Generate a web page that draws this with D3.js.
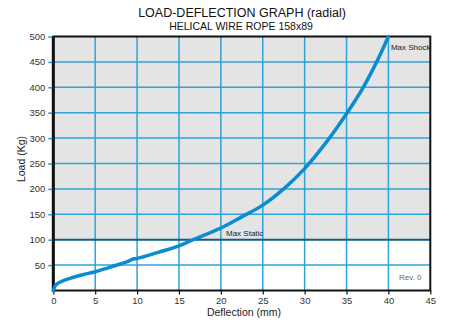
<!DOCTYPE html>
<html><head><meta charset="utf-8">
<script src="https://cdn.jsdelivr.net/npm/d3@7"></script>
<style>body{margin:0;background:#fff}svg{display:block}text{font-family:"Liberation Sans",Arial,sans-serif}</style>
</head><body>
<svg id="c" width="449" height="325"></svg>
<script>
const deflection = [0, 0.3, 1, 2, 3.5, 5, 7, 9, 9.5, 10, 12.5, 15, 16.7, 20, 22.5, 25, 27.5, 30, 32.5, 35, 37, 38.6, 40];
const load = [0, 11, 18, 24, 31, 37, 47, 58, 62, 63, 75, 88, 100, 123, 145, 168, 200, 240, 290, 348, 400, 450, 500];
const xTicks = [0, 5, 10, 15, 20, 25, 30, 35, 40, 45];
const yTicks = [50, 100, 150, 200, 250, 300, 350, 400, 450, 500];
const maxStatic = 100;
const maxShock = 500;

const svg = d3.select("#c");
const L = 53.3, R = 430.3, T = 36.5, B = 290.5;
const x = d3.scaleLinear().domain([0, 45]).range([L, R]);
const y = d3.scaleLinear().domain([0, 500]).range([B, T]);

// backgrounds
svg.append("rect").attr("x", L).attr("y", y(500)).attr("width", R - L).attr("height", y(maxStatic) - y(500)).attr("fill", "#e4e4e4");

const grid = "#2ea2da";
// vertical grid
svg.append("g").selectAll("line").data(xTicks.slice(1, -1)).join("line")
  .attr("x1", d => x(d)).attr("x2", d => x(d)).attr("y1", T).attr("y2", B)
  .attr("stroke", grid).attr("stroke-width", 1.5);
// horizontal grid
svg.append("g").selectAll("line").data(yTicks.filter(d => d !== maxStatic && d !== 500)).join("line")
  .attr("x1", L).attr("x2", R).attr("y1", d => y(d)).attr("y2", d => y(d))
  .attr("stroke", grid).attr("stroke-width", 1.5);
// max static line
svg.append("line").attr("x1", L).attr("x2", R).attr("y1", y(maxStatic)).attr("y2", y(maxStatic))
  .attr("stroke", "#0d5c84").attr("stroke-width", 2);

// border
svg.append("rect").attr("x", L).attr("y", T).attr("width", R - L).attr("height", B - T)
  .attr("fill", "none").attr("stroke", "#111").attr("stroke-width", 2);
svg.append("line").attr("x1", L).attr("x2", L).attr("y1", T).attr("y2", B + 1)
  .attr("stroke", "#111").attr("stroke-width", 3);

// y axis
const yAxis = svg.append("g").attr("transform", `translate(${L - 1},0)`)
  .call(d3.axisLeft(y).tickValues(yTicks).tickSize(4).tickPadding(3));
yAxis.select(".domain").remove();
yAxis.selectAll("line").attr("stroke", "#1a9ad6").attr("stroke-width", 1.5);
yAxis.selectAll("text").attr("font-size", 9.5).attr("fill", "#333");

// x axis
const xAxis = svg.append("g").attr("transform", `translate(0,${B})`)
  .call(d3.axisBottom(x).tickValues(xTicks).tickSize(4).tickPadding(3));
xAxis.select(".domain").remove();
xAxis.selectAll("line").attr("stroke", "#111").attr("stroke-width", 1.2);
xAxis.selectAll("text").attr("font-size", 9.5).attr("fill", "#333");

// curve
const pts = deflection.map((d, i) => [d, load[i]]);
svg.append("path").datum(pts)
  .attr("d", d3.line().x(d => x(d[0])).y(d => y(d[1])).curve(d3.curveCatmullRom.alpha(0.5)))
  .attr("fill", "none").attr("stroke", "#0a8bd2").attr("stroke-width", 3.5).attr("stroke-linecap", "round");

// labels
svg.append("text").attr("x", 242).attr("y", 16.5).attr("text-anchor", "middle").attr("font-size", 12.5).attr("fill", "#111")
  .text("LOAD-DEFLECTION GRAPH (radial)");
svg.append("text").attr("x", 241).attr("y", 30).attr("text-anchor", "middle").attr("font-size", 10.5).attr("fill", "#111")
  .text("HELICAL WIRE ROPE 158x89");
svg.append("text").attr("transform", "translate(25,159) rotate(-90)").attr("text-anchor", "middle").attr("font-size", 10.5).attr("fill", "#222")
  .text("Load (Kg)");
svg.append("text").attr("x", 244).attr("y", 316).attr("text-anchor", "middle").attr("font-size", 10.5).attr("fill", "#222")
  .text("Deflection (mm)");
svg.append("text").attr("x", x(40) + 2.5).attr("y", y(maxShock) + 13).attr("font-size", 8).attr("fill", "#222").text("Max Shock");
svg.append("text").attr("x", 226).attr("y", y(maxStatic) - 3.5).attr("font-size", 8).attr("fill", "#222").text("Max Static");
svg.append("text").attr("x", 399).attr("y", 280).attr("font-size", 8).attr("fill", "#666").text("Rev. 0");
</script>
</body></html>
